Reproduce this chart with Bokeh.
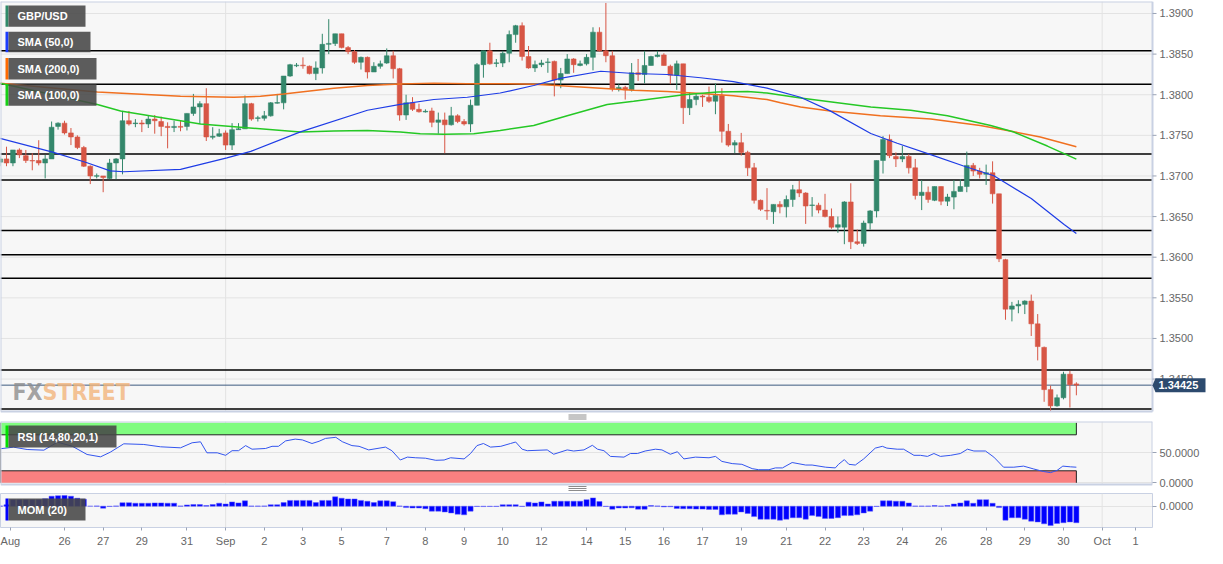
from bokeh.plotting import figure
from bokeh.layouts import column
from bokeh.models import (Range1d, FixedTicker, NumeralTickFormatter, ColumnDataSource,
                          CustomJSTickFormatter)
from bokeh.embed import file_html
from bokeh.resources import INLINE
from bokeh.core.properties import value

# ---------------- data (4-hour GBP/USD candles) ----------------
opens = [1.3717, 1.3721, 1.3716, 1.3732, 1.3725, 1.3719, 1.3719, 1.3716, 1.3721, 1.3761,
         1.3765, 1.3753, 1.3748, 1.3735, 1.3712, 1.36996, 1.3700, 1.3697, 1.3716, 1.3721,
         1.3768, 1.37644, 1.37652, 1.3764, 1.3770, 1.3767, 1.3761, 1.37596, 1.3761, 1.3761,
         1.3777, 1.3785, 1.3789, 1.37476, 1.3749, 1.3753, 1.3738, 1.3757, 1.3758, 1.3789,
         1.37708, 1.3771, 1.3774, 1.37896, 1.3790, 1.3823, 1.38356, 1.38364, 1.3835, 1.3826,
         1.3833, 1.3862, 1.3863, 1.3875, 1.3858, 1.3853, 1.3840, 1.3846, 1.3828, 1.3835,
         1.3839, 1.3848, 1.3832, 1.3775, 1.3790, 1.3782, 1.37788, 1.3780, 1.3766, 1.3769,
         1.3763, 1.3774, 1.3767, 1.3764, 1.3787, 1.3837, 1.3854, 1.38384, 1.3839, 1.3851,
         1.3874, 1.3885, 1.3847, 1.3833, 1.3837, 1.38396, 1.3841, 1.3818, 1.3826, 1.3844,
         1.3836, 1.3838, 1.3846, 1.3877, 1.3854, 1.3848, 1.3807, 1.3809, 1.3806, 1.3827,
         1.3825, 1.3836, 1.3847, 1.3849, 1.3835, 1.3824, 1.3838, 1.3784, 1.3794, 1.37984,
         1.3797, 1.3792, 1.3799, 1.3755, 1.3738, 1.3741, 1.3729, 1.3710, 1.3670, 1.36576,
         1.3656, 1.3665, 1.3662, 1.3671, 1.3683, 1.3679, 1.36636, 1.3664, 1.3658, 1.3650,
         1.3637, 1.3637, 1.3668, 1.3619, 1.3617, 1.3642, 1.3657, 1.3719, 1.3745, 1.3724,
         1.3721, 1.3724, 1.3710, 1.3676, 1.3680, 1.3670, 1.3687, 1.3669, 1.3674, 1.3681,
         1.3687, 1.3713, 1.3706, 1.3702, 1.3704, 1.3678, 1.3597, 1.3536, 1.3540, 1.3542,
         1.3546, 1.3518, 1.3489, 1.3437, 1.3417, 1.3427, 1.3456, 1.3444]
highs = [1.3724, 1.3736, 1.3732, 1.3734, 1.3732, 1.3728, 1.3744, 1.3726, 1.3767, 1.3766,
         1.3768, 1.3759, 1.3750, 1.3737, 1.3713, 1.3703, 1.3700, 1.3721, 1.3722, 1.3780,
         1.3780, 1.3770, 1.3769, 1.3774, 1.3775, 1.3773, 1.3766, 1.3768, 1.3768, 1.3777,
         1.3801, 1.3792, 1.3808, 1.3760, 1.3758, 1.3756, 1.3765, 1.3765, 1.3799, 1.3790,
         1.3774, 1.3780, 1.3791, 1.3801, 1.3823, 1.3838, 1.3839, 1.3846, 1.3836, 1.3841,
         1.3875, 1.3893, 1.3875, 1.3875, 1.3860, 1.3855, 1.3847, 1.3847, 1.3840, 1.3842,
         1.3857, 1.3854, 1.3833, 1.3800, 1.3797, 1.3789, 1.3782, 1.3784, 1.3778, 1.3778,
         1.3785, 1.3776, 1.3770, 1.3794, 1.3839, 1.3854, 1.3864, 1.3844, 1.3854, 1.3879,
         1.3886, 1.3889, 1.3860, 1.3842, 1.3843, 1.3845, 1.3842, 1.3833, 1.3850, 1.3845,
         1.3842, 1.3850, 1.3883, 1.3883, 1.3913, 1.3854, 1.3813, 1.3811, 1.3839, 1.3844,
         1.3854, 1.3848, 1.3854, 1.3851, 1.3837, 1.3842, 1.3838, 1.3803, 1.3801, 1.3800,
         1.3810, 1.3814, 1.3808, 1.3764, 1.3744, 1.3753, 1.3731, 1.3716, 1.3671, 1.3685,
         1.3665, 1.3669, 1.3676, 1.3689, 1.3694, 1.3680, 1.3674, 1.3667, 1.3678, 1.3660,
         1.3650, 1.3669, 1.3691, 1.3634, 1.3645, 1.3658, 1.3719, 1.3749, 1.3751, 1.3729,
         1.3737, 1.3727, 1.3721, 1.3695, 1.3687, 1.3687, 1.3687, 1.3678, 1.3695, 1.3696,
         1.3730, 1.3716, 1.3710, 1.3714, 1.3718, 1.3678, 1.3598, 1.3545, 1.3547, 1.3547,
         1.3554, 1.3530, 1.3490, 1.3442, 1.3431, 1.3459, 1.3460, 1.3446]
lows = [1.3712, 1.3712, 1.3712, 1.3722, 1.3716, 1.3707, 1.3713, 1.3697, 1.3721, 1.3757,
        1.3751, 1.3738, 1.3733, 1.3711, 1.3690, 1.3697, 1.3680, 1.3696, 1.3696, 1.3702,
        1.3762, 1.3760, 1.3754, 1.3759, 1.3752, 1.3749, 1.3734, 1.3754, 1.3755, 1.3756,
        1.3774, 1.3764, 1.3743, 1.3745, 1.3748, 1.3732, 1.3732, 1.3757, 1.3758, 1.3768,
        1.3767, 1.3768, 1.3773, 1.3789, 1.3782, 1.3822, 1.3834, 1.3832, 1.3825, 1.3818,
        1.3826, 1.3850, 1.3860, 1.3857, 1.3850, 1.3838, 1.3831, 1.3820, 1.3828, 1.3832,
        1.3838, 1.3820, 1.3768, 1.3769, 1.3780, 1.3778, 1.3778, 1.3760, 1.3752, 1.3728,
        1.3762, 1.3765, 1.3762, 1.3754, 1.3787, 1.3821, 1.3837, 1.3834, 1.3834, 1.3840,
        1.3864, 1.3842, 1.3832, 1.3828, 1.3834, 1.3827, 1.3798, 1.3808, 1.3826, 1.3827,
        1.3835, 1.3836, 1.3830, 1.3853, 1.3840, 1.3804, 1.3804, 1.3794, 1.3804, 1.3817,
        1.3814, 1.3836, 1.3846, 1.3836, 1.3813, 1.3806, 1.3764, 1.3775, 1.3787, 1.3785,
        1.3790, 1.3776, 1.3741, 1.3736, 1.3728, 1.3725, 1.3700, 1.3666, 1.3657, 1.3646,
        1.3641, 1.3654, 1.3649, 1.3662, 1.3674, 1.3641, 1.3650, 1.3654, 1.3649, 1.3635,
        1.3630, 1.3616, 1.3610, 1.3615, 1.3613, 1.3634, 1.3649, 1.3703, 1.3722, 1.3711,
        1.3717, 1.3703, 1.3671, 1.3658, 1.3667, 1.3669, 1.3664, 1.3663, 1.3659, 1.3681,
        1.3680, 1.3700, 1.3697, 1.3689, 1.3666, 1.3594, 1.3523, 1.3521, 1.3531, 1.3530,
        1.3503, 1.3473, 1.3422, 1.3410, 1.3416, 1.3425, 1.3415, 1.3430]
closes = [1.3721, 1.3716, 1.3732, 1.3726, 1.3719, 1.37184, 1.3716, 1.3721, 1.3760, 1.3765,
          1.3753, 1.3748, 1.3735, 1.3712, 1.3700, 1.37004, 1.3698, 1.3716, 1.3721, 1.3768,
          1.3764, 1.37652, 1.3764, 1.3770, 1.3768, 1.3761, 1.37596, 1.3761, 1.3760, 1.3777,
          1.3785, 1.3789, 1.3748, 1.37488, 1.3752, 1.3738, 1.3757, 1.3758, 1.3789, 1.3770,
          1.37716, 1.3774, 1.3790, 1.37904, 1.3823, 1.3837, 1.38364, 1.38356, 1.3826, 1.3833,
          1.3862, 1.38632, 1.3875, 1.3858, 1.3853, 1.3840, 1.3846, 1.3828, 1.3835, 1.3838,
          1.3848, 1.3832, 1.3775, 1.3790, 1.3782, 1.3779, 1.37796, 1.3766, 1.3769, 1.3763,
          1.3774, 1.3767, 1.3764, 1.3787, 1.3837, 1.3854, 1.3838, 1.38392, 1.3851, 1.3874,
          1.3885, 1.3847, 1.3833, 1.3837, 1.3839, 1.38404, 1.3818, 1.3826, 1.3844, 1.3837,
          1.3838, 1.3846, 1.3877, 1.3854, 1.3848, 1.3807, 1.3809, 1.3806, 1.3827, 1.3825,
          1.3836, 1.3847, 1.3849, 1.3836, 1.3824, 1.3838, 1.3784, 1.3794, 1.3798, 1.37972,
          1.3792, 1.3799, 1.3755, 1.3738, 1.3741, 1.3729, 1.3710, 1.3670, 1.3659, 1.36568,
          1.3665, 1.3662, 1.3671, 1.3683, 1.3679, 1.3663, 1.36644, 1.3658, 1.3650, 1.3637,
          1.3640, 1.3668, 1.3619, 1.3617, 1.3642, 1.3657, 1.3719, 1.3745, 1.3725, 1.3721,
          1.3724, 1.3710, 1.3676, 1.3680, 1.3671, 1.3687, 1.3669, 1.3674, 1.3681, 1.3687,
          1.3713, 1.3706, 1.3702, 1.3704, 1.3678, 1.3598, 1.3536, 1.3540, 1.3542, 1.3546,
          1.3518, 1.3490, 1.3437, 1.3417, 1.3427, 1.3456, 1.3443, 1.34425]

# moving averages, read at sample points (candle index, price)
sma50_idx = [0, 8.3, 13.5, 17.1, 19.2, 28, 35.2, 38.9, 46.6, 57, 62.1, 67.3, 72.5, 77.6, 82.8,
             86.9, 93.2, 98.3, 103.5, 108.7, 113.8, 119, 124.2, 128.8, 135.1, 139.2, 144.4,
             149.5, 154.2, 160, 165.1, 167]
sma50_val = [1.37462, 1.3729, 1.37162, 1.37062, 1.37052, 1.37082, 1.37222, 1.37302, 1.37542,
             1.37809, 1.37881, 1.37941, 1.37969, 1.38021, 1.38113, 1.38201, 1.38289, 1.38261,
             1.38249, 1.38209, 1.38161, 1.38081, 1.37969, 1.37801, 1.37522, 1.37402, 1.37262,
             1.37122, 1.37002, 1.36722, 1.36403, 1.36291]
sma200_idx = [0, 15.1, 28, 36.3, 40.4, 44, 51.8, 57, 62.1, 67.3, 72.5, 77.6, 82.8, 86.4, 93.2,
              98.3, 103.5, 108.7, 113.8, 119, 121.1, 124.2, 128.8, 136.6, 144.4, 152.1, 156.3,
              161.4, 167]
sma200_val = [1.3814, 1.38032, 1.3798, 1.37968, 1.3798, 1.38008, 1.3808, 1.38112, 1.38132,
              1.3814, 1.38136, 1.38136, 1.38128, 1.38112, 1.3808, 1.38056, 1.3804, 1.38016,
              1.37988, 1.3794, 1.3790, 1.37848, 1.3780, 1.3774, 1.3770, 1.3762, 1.3756,
              1.3748, 1.3736]
sma100_idx = [0, 15.1, 18.7, 31.1, 46.6, 51.8, 57, 62.1, 65.2, 68.9, 73.5, 77.6, 82.8, 88,
              94.2, 98.3, 106.1, 111.3, 116, 119, 124.2, 135.1, 141.3, 147, 153.7, 157.3,
              162.5, 167]
sma100_val = [1.3814, 1.3788, 1.3780, 1.3764, 1.3754, 1.37552, 1.3756, 1.3754, 1.3752,
              1.37512, 1.3752, 1.3756, 1.3762, 1.3774, 1.3788, 1.3792, 1.3800, 1.38032,
              1.3804, 1.3802, 1.3796, 1.37848, 1.37808, 1.3774, 1.3762, 1.3754, 1.37368,
              1.37208]

# support / resistance levels and last price
levels = [1.3854, 1.3813, 1.3727, 1.3695, 1.3633, 1.3603, 1.3574, 1.3461, 1.3413]
last_price = 1.34425
price_ticks = [1.3450, 1.3500, 1.3550, 1.3600, 1.3650, 1.3700, 1.3750, 1.3800, 1.3850, 1.3900]

# RSI (14) read at sample points
rsi_idx = [0, 2.1, 4.2, 6.8, 8.9, 11.2, 13.5, 15.6, 17.1, 19.2, 22.3, 24.9, 28, 29.8, 31.1,
           32.1, 33.7, 35, 36, 37, 38.1, 39.1, 41.2, 42.2, 43.2, 44.3, 45.8, 46.9, 48.4, 49.5,
           50.5, 52.1, 53.1, 54.6, 55.7, 57.2, 59.8, 60.8, 62.1, 63.2, 64.5, 66, 67.6, 68.9,
           69.9, 72, 73, 74, 75, 76.1, 77.7, 79.2, 80, 81, 81.8, 84.9, 85.9, 88, 89, 90.6,
           91.9, 92.7, 93.7, 94.7, 96.8, 97.8, 98.9, 100.1, 101.7, 102.7, 104, 105.1, 106.1,
           107.9, 110, 111, 112, 113.6, 115.1, 116.7, 117.7, 119.3, 120.3, 121.4, 122.9, 125,
           126, 128.1, 129.6, 130.1, 131, 131.7, 132.7, 134, 135.8, 136.9, 137.6, 139.2, 140.2,
           141.8, 142.8, 143.9, 144.9, 145.9, 147.5, 149, 150.1, 151.1, 152.9, 154.2, 155.7,
           157.3, 158.8, 160.4, 161.9, 163, 164, 164.9, 166.1, 167]
rsi_val = [56.7, 59.4, 55.5, 54.4, 67.7, 61, 47.2, 43.3, 51, 65, 63.9, 60, 58.3, 66.7, 68.3,
           50, 50, 45.8, 53.5, 53.5, 62, 56, 57.2, 60.8, 60.8, 69.8, 72.8, 71.5, 65.5, 69.2,
           74, 75.8, 68.5, 62, 60.8, 54.8, 59.5, 53.5, 38, 42.8, 41.7, 41, 37.5, 38,
           41.7, 39.8, 48.8, 62, 65.5, 59.5, 60.8, 65.5, 68, 56, 53.5, 54.8, 47.6, 54.8, 53, 54.8,
           62.5, 56, 53.5, 44, 42.8, 48.8, 48.8, 53, 56, 54.8, 47.6, 51.8, 39.8,
           42.8, 41.7, 44, 35.7, 32, 30.8, 23.6, 21.8, 21.8, 24.8, 24.8, 33.8, 29.6,
           29.6, 26, 24.8, 30.8, 38.6, 30.8, 29.6, 39.8, 57.8, 60.8, 57.8, 56, 56,
           45.8, 45.8, 44, 48.8, 44, 45.8, 48.8, 56, 53, 53, 42.8, 26,
           26, 27.8, 23, 18.8, 17, 20.6, 27.8, 26.6, 26]
rsi_upper, rsi_lower = 80, 20

# Momentum (20) per candle
mom = [0.0004, 0.0018, 0.0085, 0.0085, 0.0085, 0.0085, 0.0085, 0.0098, 0.0130, 0.0137,
       0.0139, 0.0130, 0.0104, 0.0091, 0.0000, 0.0004, -0.0026, -0.0004, 0.0004, 0.0046,
       0.0046, 0.0039, 0.0039, 0.0039, 0.0043, 0.0043, 0.0039, 0.0039, 0.0004, 0.0017,
       0.0022, 0.0022, 0.0009, 0.0022, 0.0039, 0.0029, 0.0056, 0.0043, 0.0070, 0.0003,
       0.0003, 0.0004, 0.0020, 0.0020, 0.0047, 0.0075, 0.0075, 0.0075, 0.0075, 0.0047,
       0.0075, 0.0075, 0.0122, 0.0104, 0.0094, 0.0094, 0.0075, 0.0065, 0.0047, 0.0070,
       0.0070, 0.0059, 0.0003, -0.0018, -0.0023, -0.0023, -0.0033, -0.0065, -0.0065, -0.0075,
       -0.0088, -0.0104, -0.0112, -0.0065, -0.0004, -0.0005, -0.0004, -0.0004, 0.0020, 0.0020,
       0.0020, -0.0003, 0.0052, 0.0042, 0.0056, 0.0029, 0.0065, 0.0065, 0.0065, 0.0065,
       0.0065, 0.0085, 0.0108, 0.0061, -0.0004, -0.0039, -0.0023, -0.0023, -0.0020, -0.0039,
       -0.0039, 0.0009, 0.0004, -0.0009, -0.0007, -0.0029, -0.0033, -0.0033, -0.0038, -0.0038,
       -0.0042, -0.0042, -0.0112, -0.0104, -0.0104, -0.0075, -0.0094, -0.0135, -0.0169, -0.0169,
       -0.0169, -0.0182, -0.0169, -0.0150, -0.0150, -0.0169, -0.0122, -0.0135, -0.0159, -0.0159,
       -0.0150, -0.0122, -0.0122, -0.0112, -0.0088, -0.0065, -0.0004, 0.0070, 0.0070, 0.0065,
       0.0065, 0.0042, 0.0003, 0.0003, 0.0003, 0.0009, 0.0003, 0.0009, 0.0029, 0.0042,
       0.0070, 0.0038, 0.0085, 0.0085, 0.0038, -0.0018, -0.0182, -0.0150, -0.0150, -0.0169,
       -0.0195, -0.0205, -0.0229, -0.0252, -0.0225, -0.0215, -0.0205, -0.0215]

# date axis (candle index of each labelled day)
tick_pos = [1.6, 10, 16, 22, 29, 35, 41, 47, 53, 60, 66, 72, 78, 84, 91, 97, 103, 109, 115,
            122, 128, 134, 140, 146, 153, 159, 165, 171, 176.2]
tick_labels = ["Aug", "26", "27", "29", "31", "Sep", "2", "3", "5", "7", "8", "9", "10", "12",
               "14", "15", "16", "17", "19", "21", "22", "23", "24", "26", "28", "29", "30",
               "Oct", "1"]
month_starts = [35, 171]

# ---------------- helpers for decoration placement (reference pixels -> data) ----------------
def px_x(x):
    return (x + 0.45) / 6.445

def px_price(y):
    return 1.3900 - (y - 13.3) / 8342.0

def px_rsi(y):
    return (493.3 - y) / 0.6

def px_mom(y):
    return (516.7 - y) * 0.0013

FONT = "Liberation Sans"
FULL_W = 1207
FRAME_W = 1152
RIGHT_B = FULL_W - FRAME_W
BG = "#f7f7f7"
OUTLINE = "#c9d1e3"
GRID = "#e3e3e3"
TICK = "#9aa3b5"
LABEL = "#666666"
HANDLE = "#8c8c8c"
GREEN = "#33876b"
RED = "#d75645"

X_LEFT = 0.07
X_PLOT_R = px_x(FRAME_W)
xr = Range1d(X_LEFT, X_PLOT_R)


def style_y_axis(ax, ticks, fmt="0.0000"):
    ax.ticker = FixedTicker(ticks=ticks)
    ax.formatter = NumeralTickFormatter(format=fmt)
    ax.axis_line_color = None
    ax.major_tick_line_color = TICK
    ax.major_tick_out = 4
    ax.major_tick_in = 0
    ax.minor_tick_line_color = None
    ax.major_label_text_color = LABEL
    ax.major_label_text_font = FONT
    ax.major_label_text_font_size = "11px"
    ax.major_label_standoff = 3


def plot_area(f, y0, y1):
    """Grey plot background and month grid lines, limited to the plot area."""
    f.quad(left=X_LEFT, right=X_PLOT_R, bottom=y0, top=y1, fill_color=BG, line_color=None,
           level="image")
    f.segment(x0=month_starts, x1=month_starts, y0=[y0] * len(month_starts),
              y1=[y1] * len(month_starts), line_color=GRID, line_width=1, level="underlay")


def outline(f, y0, y1):
    f.segment(x0=[X_LEFT, X_LEFT, X_PLOT_R, X_LEFT], x1=[X_PLOT_R, X_PLOT_R, X_PLOT_R, X_LEFT],
              y0=[y1, y0, y0, y0], y1=[y1, y0, y1, y1], line_color=OUTLINE, line_width=2)


def handle(f, ys):
    f.segment(x0=[px_x(568)] * 3, x1=[px_x(586)] * 3, y0=ys, y1=ys,
              line_color=HANDLE, line_width=1)


def tag(f, text, color, x1, y0, y1, ymid):
    f.quad(left=px_x(5), right=px_x(8), top=y0, bottom=y1, fill_color=color, line_color=None)
    f.quad(left=px_x(8), right=px_x(x1), top=y0, bottom=y1, fill_color="#474747",
           fill_alpha=0.88, line_color=None)
    f.text(x=[px_x(17)], y=[ymid], text=[text], text_color="white",
           text_font=value(FONT), text_font_style="bold", text_font_size="11px",
           text_baseline="middle", text_align="left")


# ---------------- main price panel (price scale drawn inside a full-width frame) ----------------
MAIN_H = 410
GAP1 = 9
y_lo, y_hi = px_price(422), px_price(1)
spx = (y_hi - y_lo) / MAIN_H          # price units per output pixel
p = figure(frame_width=FULL_W, frame_height=MAIN_H + GAP1,
           x_range=Range1d(X_LEFT, px_x(FULL_W)),
           y_range=Range1d(y_lo - GAP1 * spx, y_hi), x_axis_location=None, y_axis_location=None,
           toolbar_location=None, output_backend="svg",
           min_border_left=0, min_border_right=0, min_border_top=1, min_border_bottom=0,
           background_fill_color="white", border_fill_color="white", outline_line_color=None)
p.xgrid.visible = False
p.ygrid.visible = False

plot_area(p, y_lo, y_hi)
nt = len(price_ticks)
p.segment(x0=[X_LEFT] * nt, x1=[X_PLOT_R] * nt, y0=price_ticks, y1=price_ticks,
          line_color=GRID, line_width=1, level="underlay")
nl = len(levels)
p.segment(x0=[X_LEFT] * nl, x1=[X_PLOT_R] * nl, y0=levels, y1=levels,
          line_color="black", line_width=1.5, level="underlay")
p.segment(x0=[X_LEFT], x1=[X_PLOT_R], y0=[last_price], y1=[last_price],
          line_color="#3d5a80", line_width=1, level="underlay")

# watermark
wm_font = value("Liberation Sans Narrow, DejaVu Sans Condensed, sans-serif")
p.text(x=[px_x(42)], y=[px_price(402)], text=["FX"], text_color="#8c8c8c", text_alpha=0.8,
       text_font=wm_font, text_font_style="bold", text_font_size="23px",
       text_align="right", text_baseline="alphabetic")
p.text(x=[px_x(42)], y=[px_price(402)], text=["STREET"], text_color="#f2b47a", text_alpha=0.8,
       text_font=wm_font, text_font_style="bold", text_font_size="23px",
       text_align="left", text_baseline="alphabetic")

idx = list(range(len(opens)))
colors = [GREEN if c >= o else RED for o, c in zip(opens, closes)]
src = ColumnDataSource(dict(x=idx, o=opens, h=highs, l=lows, c=closes,
                            top=[max(o, c) for o, c in zip(opens, closes)],
                            bot=[min(o, c) for o, c in zip(opens, closes)],
                            col=colors))
p.segment(x0="x", x1="x", y0="h", y1="l", line_color="col", line_width=1, source=src)
p.vbar(x="x", top="top", bottom="bot", width=0.74, fill_color="col", line_color="col",
       line_alpha=0.55, line_width=1, source=src)

p.line(sma200_idx, sma200_val, line_color="#f07020", line_width=1.5)
p.line(sma100_idx, sma100_val, line_color="#25c825", line_width=1.5)
p.line(sma50_idx, sma50_val, line_color="#1e3ce6", line_width=1.2)

for text, color, y0, y1, x1 in [("GBP/USD", "#2f8a6a", 5, 27, 85),
                                ("SMA (50,0)", "#1a3cff", 32, 53, 90),
                                ("SMA (200,0)", "#ff6a00", 59, 81, 96),
                                ("SMA (100,0)", "#16d016", 86, 108, 96)]:
    tag(p, text, color, x1, px_price(y0), px_price(y1), px_price((y0 + y1) / 2))

outline(p, y_lo, y_hi)

# right price scale: ticks + labels
p.segment(x0=[X_PLOT_R] * nt, x1=[px_x(FRAME_W + 4)] * nt, y0=price_ticks, y1=price_ticks,
          line_color=TICK, line_width=1)
p.text(x=[px_x(FRAME_W + 7)] * nt, y=price_ticks, text=["%.4f" % t for t in price_ticks],
       text_color=LABEL, text_font=value(FONT), text_font_size="11px",
       text_baseline="middle", text_align="left")

# last-price tag
half = 7 * spx
p.patch(x=[X_PLOT_R, px_x(FRAME_W + 3), px_x(FRAME_W + 53), px_x(FRAME_W + 53), px_x(FRAME_W + 3)],
        y=[last_price, last_price + half, last_price + half, last_price - half, last_price - half],
        fill_color="#2c4a6e", line_color=None)
p.text(x=[px_x(FRAME_W + 6)], y=[last_price], text=["%.5f" % last_price], text_color="white",
       text_font=value(FONT), text_font_style="bold", text_font_size="11px",
       text_baseline="middle", text_align="left")

# pane splitter handle
handle(p, [y_lo - 3.5 * spx, y_lo - 5.5 * spx, y_lo - 7.5 * spx])

# ---------------- RSI panel ----------------
RSI_H = 63
GAP2 = 8
r_lo, r_hi = px_rsi(495), px_rsi(432)
rpx = (r_hi - r_lo) / RSI_H
r = figure(frame_width=FRAME_W, frame_height=RSI_H + GAP2, x_range=xr,
           y_range=Range1d(r_lo - GAP2 * rpx, r_hi), y_axis_location="right",
           x_axis_location=None, toolbar_location=None, output_backend="svg",
           min_border_left=0, min_border_right=RIGHT_B, min_border_top=1, min_border_bottom=0,
           background_fill_color="white", border_fill_color="white", outline_line_color=None)
r.xgrid.visible = False
r.ygrid.grid_line_color = GRID
style_y_axis(r.yaxis[0], [0, 50])
plot_area(r, r_lo, r_hi)
r.quad(left=X_LEFT, right=167, bottom=rsi_upper, top=100, fill_color="#80fc80", line_color=None)
r.quad(left=X_LEFT, right=167, bottom=0, top=rsi_lower, fill_color="#f98080", line_color=None)
r.segment(x0=[X_LEFT, X_LEFT, 167, 167, X_LEFT], x1=[167, 167, 167, 167, X_LEFT],
          y0=[rsi_upper, rsi_lower, rsi_upper, 0, 0],
          y1=[rsi_upper, rsi_lower, 100, rsi_lower, 100],
          line_color="#222222", line_width=1)
r.line(rsi_idx, rsi_val, line_color="#3355ee", line_width=1)
tag(r, "RSI (14,80,20,1)", "#00e000", 116, px_rsi(436), px_rsi(458), px_rsi(447))
outline(r, r_lo, r_hi)
handle(r, [r_lo - 2 * rpx, r_lo - 4 * rpx, r_lo - 6 * rpx])

# ---------------- Momentum panel ----------------
m = figure(frame_width=FRAME_W, frame_height=34, x_range=xr,
           y_range=Range1d(px_mom(538), px_mom(504)), y_axis_location="right",
           x_axis_location="below", toolbar_location=None, output_backend="svg",
           min_border_left=0, min_border_right=RIGHT_B, min_border_top=1, min_border_bottom=0,
           background_fill_color=BG, border_fill_color="white", outline_line_color=OUTLINE)
m.xgrid.visible = False
m.ygrid.grid_line_color = GRID
m.segment(x0=month_starts, x1=month_starts, y0=[px_mom(538)] * 2, y1=[px_mom(504)] * 2,
          line_color=GRID, line_width=1, level="underlay")
style_y_axis(m.yaxis[0], [0])
m.vbar(x=idx, top=mom, bottom=0, width=0.8, fill_color="#0000ff", line_color="#5a5aff",
       line_alpha=0.6, line_width=0.8)
tag(m, "MOM (20)", "#0000ff", 85, px_mom(509), px_mom(531), px_mom(520))

xa = m.xaxis[0]
xa.ticker = FixedTicker(ticks=tick_pos)
xa.formatter = CustomJSTickFormatter(args=dict(pos=tick_pos, lab=tick_labels), code="""
let out = '';
for (let k = 0; k < pos.length; k++) { if (Math.abs(pos[k] - tick) < 1e-6) { out = lab[k]; } }
return out;
""")
xa.axis_line_color = None
xa.major_tick_line_color = TICK
xa.major_tick_out = 3
xa.major_tick_in = 0
xa.minor_tick_line_color = None
xa.major_label_text_color = LABEL
xa.major_label_text_font = FONT
xa.major_label_text_font_size = "11px"
xa.major_label_standoff = 4

layout = column(p, r, m, spacing=0)
open("out.html", "w").write(file_html(layout, INLINE))
